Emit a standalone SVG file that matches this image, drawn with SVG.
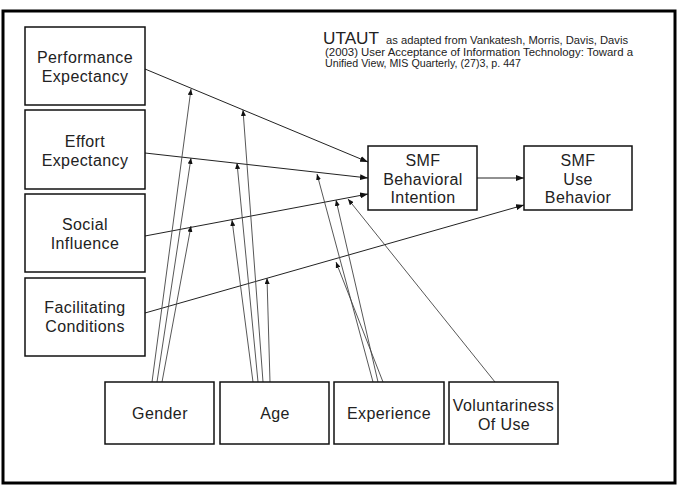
<svg xmlns="http://www.w3.org/2000/svg" width="681" height="490" viewBox="0 0 681 490">
  <style>
    .box { fill: #fff; stroke: #111; stroke-width: 1.5; }
    .lbl { font-family: "Liberation Sans", Arial, sans-serif; font-size: 16px; letter-spacing: 0.4px; fill: #222; text-anchor: middle; }
    .cite { font-family: "Liberation Sans", Arial, sans-serif; font-size: 10.5px; fill: #222; }
    .main { fill: none; stroke: #222; stroke-width: 1; marker-end: url(#ah); }
    .mod { fill: none; stroke: #444; stroke-width: 0.9; marker-end: url(#ahs); }
  </style>
  <defs>
    <marker id="ah" viewBox="0 0 8 6" refX="8" refY="3" markerWidth="8" markerHeight="6" markerUnits="userSpaceOnUse" orient="auto">
      <path d="M0,0 L8,3 L0,6 Z" fill="#111"/>
    </marker>
    <marker id="ahs" viewBox="0 0 6 5" refX="6" refY="2.5" markerWidth="6" markerHeight="5" markerUnits="userSpaceOnUse" orient="auto">
      <path d="M0,0 L6,2.5 L0,5 Z" fill="#111"/>
    </marker>
  </defs>

  <rect width="681" height="490" fill="#fff"/>
  <!-- outer frame -->
  <rect x="3" y="11" width="672" height="472" fill="none" stroke="#000" stroke-width="3"/>

  <!-- citation -->
  <g id="citation">
    <text x="323" y="44" font-family="Liberation Sans, Arial, sans-serif" font-size="16" fill="#222" textLength="56" lengthAdjust="spacingAndGlyphs">UTAUT</text>
    <text class="cite" x="386" y="44" textLength="242" lengthAdjust="spacingAndGlyphs">as adapted from Vankatesh, Morris, Davis, Davis</text>
    <text class="cite" x="325" y="56" textLength="308" lengthAdjust="spacingAndGlyphs">(2003) User Acceptance of Information Technology: Toward a</text>
    <text class="cite" x="325" y="67" textLength="196" lengthAdjust="spacingAndGlyphs">Unified View, MIS Quarterly, (27)3, p. 447</text>
  </g>

  <!-- connectors -->
  <g id="connectors">
    <!-- determinants to intention / use -->
    <line class="main" x1="145" y1="69" x2="368" y2="162"/>
    <line class="main" x1="145" y1="153" x2="368" y2="178"/>
    <line class="main" x1="145" y1="236" x2="368" y2="194"/>
    <line class="main" x1="145" y1="313" x2="524" y2="205"/>
    <line class="main" x1="477" y1="178" x2="524" y2="178"/>
    <!-- gender -->
    <line class="mod" x1="152" y1="382" x2="191" y2="89"/>
    <line class="mod" x1="157" y1="382" x2="191" y2="158"/>
    <line class="mod" x1="162" y1="382" x2="191" y2="226"/>
    <!-- age -->
    <line class="mod" x1="263" y1="382" x2="243" y2="110"/>
    <line class="mod" x1="258" y1="382" x2="237" y2="163"/>
    <line class="mod" x1="253" y1="382" x2="232" y2="220"/>
    <line class="mod" x1="270" y1="382" x2="267" y2="278"/>
    <!-- experience -->
    <line class="mod" x1="373" y1="382" x2="317" y2="174"/>
    <line class="mod" x1="378" y1="382" x2="336" y2="200"/>
    <line class="mod" x1="383" y1="382" x2="336" y2="262"/>
    <!-- voluntariness -->
    <line class="mod" x1="495" y1="382" x2="348" y2="199"/>
  </g>

  <g id="performance">
    <rect class="box" x="25" y="27" width="120" height="78"/>
    <text class="lbl" x="85" y="63">Performance</text>
    <text class="lbl" x="85" y="82">Expectancy</text>
  </g>
  <g id="effort">
    <rect class="box" x="25" y="110" width="120" height="79"/>
    <text class="lbl" x="85" y="147">Effort</text>
    <text class="lbl" x="85" y="166">Expectancy</text>
  </g>
  <g id="social">
    <rect class="box" x="25" y="194" width="120" height="78"/>
    <text class="lbl" x="85" y="230">Social</text>
    <text class="lbl" x="85" y="249">Influence</text>
  </g>
  <g id="facilitating">
    <rect class="box" x="25" y="278" width="120" height="78"/>
    <text class="lbl" x="85" y="313">Facilitating</text>
    <text class="lbl" x="85" y="332">Conditions</text>
  </g>

  <g id="intention">
    <rect class="box" x="368" y="146" width="109" height="64"/>
    <text class="lbl" x="423" y="166">SMF</text>
    <text class="lbl" x="423" y="185">Behavioral</text>
    <text class="lbl" x="423" y="203">Intention</text>
  </g>
  <g id="use">
    <rect class="box" x="524" y="146" width="108" height="64"/>
    <text class="lbl" x="578" y="166">SMF</text>
    <text class="lbl" x="578" y="185">Use</text>
    <text class="lbl" x="578" y="203">Behavior</text>
  </g>

  <g id="gender">
    <rect class="box" x="105" y="382" width="109" height="62"/>
    <text class="lbl" x="160" y="419">Gender</text>
  </g>
  <g id="age">
    <rect class="box" x="220" y="382" width="109" height="62"/>
    <text class="lbl" x="275" y="419">Age</text>
  </g>
  <g id="experience">
    <rect class="box" x="334" y="382" width="110" height="62"/>
    <text class="lbl" x="389" y="419">Experience</text>
  </g>
  <g id="voluntariness">
    <rect class="box" x="449" y="382" width="109" height="62"/>
    <text class="lbl" x="503.5" y="411">Voluntariness</text>
    <text class="lbl" x="504" y="430">Of Use</text>
  </g>
</svg>
